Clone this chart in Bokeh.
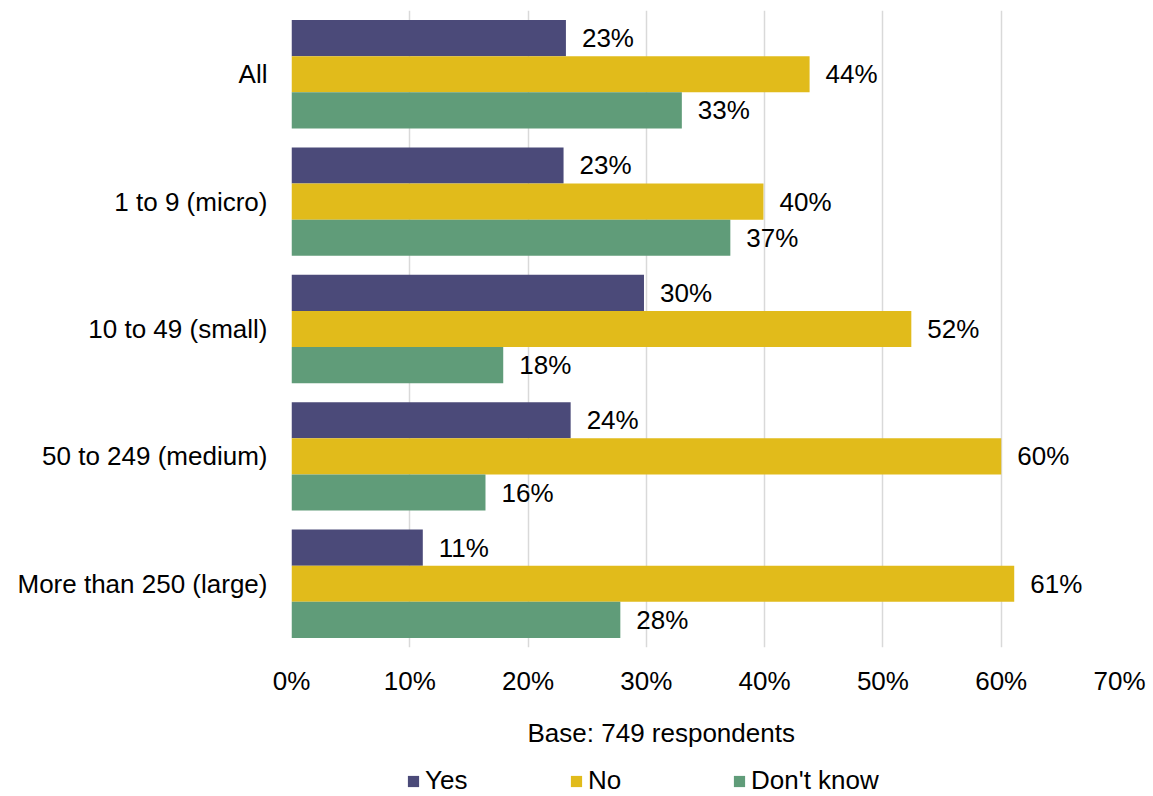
from bokeh.plotting import figure
from bokeh.layouts import column
from bokeh.models import (ColumnDataSource, FactorRange, NumeralTickFormatter,
                          FixedTicker, Legend, LegendItem, Title)
from bokeh.core.properties import value
from bokeh.transform import dodge
from bokeh.embed import file_html
from bokeh.resources import INLINE

categories = ["All", "1 to 9 (micro)", "10 to 49 (small)", "50 to 249 (medium)",
              "More than 250 (large)"]
series = ["Yes", "No", "Don't know"]
yes_vals = [23.2, 23.0, 29.8, 23.6, 11.1]
no_vals = [43.8, 39.9, 52.4, 60.0, 61.1]
dk_vals = [33.0, 37.1, 17.9, 16.4, 27.8]
x_ticks = [0, 10, 20, 30, 40, 50, 60, 70]
x_axis_title = "Base: 749 respondents"
colors = ["#4B4A79", "#E1BB1B", "#609C79"]

FONT = "Liberation Sans"
FS = "26px"

src = ColumnDataSource(dict(
    cat=categories,
    yes=[v / 100 for v in yes_vals],
    no=[v / 100 for v in no_vals],
    dk=[v / 100 for v in dk_vals],
    yes_lbl=[f"{round(v)}%" for v in yes_vals],
    no_lbl=[f"{round(v)}%" for v in no_vals],
    dk_lbl=[f"{round(v)}%" for v in dk_vals],
))

p = figure(width=1153, height=764, output_backend="svg", toolbar_location=None,
           y_range=FactorRange(*reversed(categories)), x_range=(0, 0.7),
           min_border_left=291, min_border_right=34, min_border_top=10,
           min_border_bottom=117)
p.outline_line_color = None
p.background_fill_color = "white"
p.border_fill_color = "white"

bh = 0.2835
renderers = []
for key, off, col in zip(["yes", "no", "dk"], [bh, 0, -bh], colors):
    r = p.hbar(y=dodge("cat", off, range=p.y_range), left=0, right=key,
               height=bh, source=src, fill_color=col, line_color=None)
    renderers.append(r)
    p.text(x=key, y=dodge("cat", off, range=p.y_range), text=key + "_lbl",
           source=src, x_offset=16, text_align="left", text_baseline="middle",
           text_font=value(FONT), text_font_size=value(FS), text_color="#000000")

p.xaxis.ticker = FixedTicker(ticks=[t / 100 for t in x_ticks])
p.xaxis.formatter = NumeralTickFormatter(format="0%")
p.xaxis.axis_line_color = None
p.xaxis.major_tick_line_color = None
p.xaxis.minor_tick_line_color = None
p.xaxis.major_tick_out = 0
p.xaxis.major_label_standoff = 18
p.xaxis.major_label_text_font = FONT
p.xaxis.major_label_text_font_size = FS
p.xaxis.major_label_text_color = "#000000"

p.yaxis.axis_line_color = None
p.yaxis.major_tick_line_color = None
p.yaxis.minor_tick_line_color = None
p.yaxis.major_tick_out = 0
p.yaxis.major_label_standoff = 24
p.yaxis.major_label_text_font = FONT
p.yaxis.major_label_text_font_size = FS
p.yaxis.major_label_text_color = "#000000"

p.ygrid.grid_line_color = None
p.xgrid.grid_line_color = "#D9D9D9"
p.xgrid.grid_line_width = 1.5

title = Title(text=x_axis_title, align="left", offset=236, standoff=34,
              text_font=FONT, text_font_size=FS, text_font_style="normal",
              text_color="#000000")
p.add_layout(title, "below")

# legend strip below the chart (its frame is aligned with the chart's frame)
lf = figure(width=1153, height=32, output_backend="svg", toolbar_location=None,
            x_axis_type=None, y_axis_type=None, x_range=(0, 1), y_range=(0, 1),
            min_border=0)
lf.outline_line_color = None
lf.xgrid.grid_line_color = None
lf.ygrid.grid_line_color = None
lrs = [lf.hbar(y=0, left=0, right=0, height=0, fill_color=c, line_color=None)
       for c in colors]
legend = Legend(items=[LegendItem(label=s, renderers=[r]) for s, r in zip(series, lrs)],
                orientation="horizontal", location=(115, 0),
                glyph_width=14, glyph_height=14, label_standoff=5, label_width=140,
                spacing=4, padding=0, margin=0, border_line_color=None,
                background_fill_alpha=0,
                label_text_font=FONT, label_text_font_size=FS, label_text_color="#000000")
lf.add_layout(legend, "center")

layout = column(p, lf, spacing=0)
open("out.html", "w").write(file_html(layout, INLINE))
